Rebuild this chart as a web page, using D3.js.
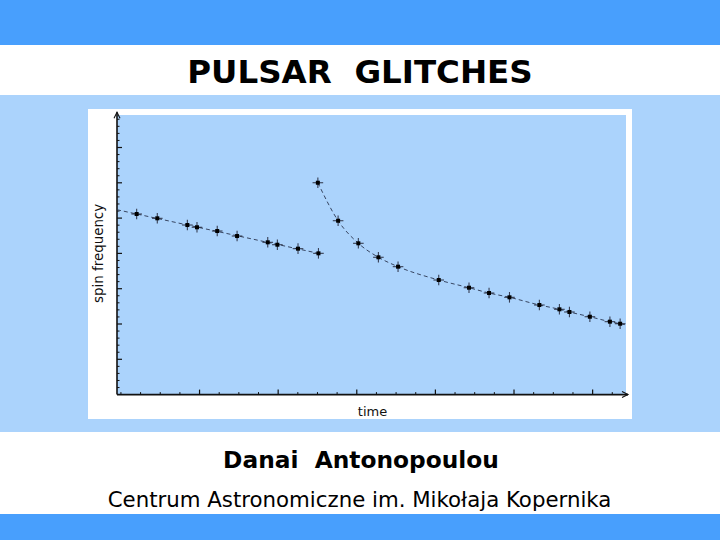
<!DOCTYPE html>
<html><head><meta charset="utf-8">
<script src="https://cdn.jsdelivr.net/npm/d3@7"></script>
<style>html,body{margin:0;padding:0;background:#fff}svg{display:block}</style>
</head><body>
<script>
// ---- data ----
const titleText = "PULSAR  GLITCHES";
const authorText = "Danai  Antonopoulou";
const affilText = "Centrum Astronomiczne im. Mikołaja Kopernika";
const xLabel = "time";
const yLabel = "spin frequency";

const preTime = [0.80, 1.85, 3.38, 3.87, 4.90, 5.91, 7.47, 7.96, 9.01, 10.05];
const preFreq = [25.58, 24.97, 24.02, 23.70, 23.17, 22.46, 21.57, 21.23, 20.67, 20.01];

const postTime = [10.02, 11.05, 12.08, 13.10, 14.10, 16.17, 17.71, 18.73, 19.77, 21.29, 22.31, 22.82, 23.86, 24.88, 25.40];
const postFreq = [30.01, 24.63, 21.43, 19.45, 18.12, 16.23, 15.14, 14.39, 13.78, 12.69, 12.08, 11.70, 11.03, 10.33, 10.04];

const timeErr = 0.27;
const freqErr = 0.75;

const xDomain = [-0.2, 25.8];
const yDomain = [0, 40];
const xMajorTicks = [4, 8, 12, 16, 20, 24];
const yMajorTicks = [5, 10, 15, 20, 25, 30, 35];

// ---- layout ----
const W = 720, H = 540;
const svg = d3.select("body").append("svg").attr("width", W).attr("height", H);

const darkBlue = "#489ffd", lightBlue = "#abd3fc";
svg.append("rect").attr("x",0).attr("y",0).attr("width",W).attr("height",H).attr("fill","#fff");
svg.append("rect").attr("x",0).attr("y",0).attr("width",W).attr("height",45).attr("fill",darkBlue);
svg.append("rect").attr("x",0).attr("y",514).attr("width",W).attr("height",26).attr("fill",darkBlue);
svg.append("rect").attr("x",0).attr("y",95).attr("width",W).attr("height",337).attr("fill",lightBlue);

// white panel + plot bg
svg.append("rect").attr("x",88).attr("y",109).attr("width",544).attr("height",310).attr("fill","#fff");

const x = d3.scaleLinear().domain(xDomain).range([117, 628]);
const y = d3.scaleLinear().domain(yDomain).range([394.6, 112.2]);

svg.append("rect").attr("x",117).attr("y",115).attr("width",626-117).attr("height",394.6-115).attr("fill",lightBlue);

// texts
svg.append("text").attr("x",360).attr("y",83).attr("text-anchor","middle")
  .attr("font-family","DejaVu Sans").attr("font-weight","bold").attr("font-size",32.5)
  .attr("fill","#000").style("white-space","pre").text(titleText);
svg.append("text").attr("x",361).attr("y",468).attr("text-anchor","middle")
  .attr("font-family","DejaVu Sans").attr("font-weight","bold").attr("font-size",23.3)
  .attr("fill","#000").style("white-space","pre").text(authorText);
svg.append("text").attr("x",359.5).attr("y",507).attr("text-anchor","middle")
  .attr("font-family","DejaVu Sans").attr("font-size",21.3)
  .attr("fill","#000").text(affilText);

// axes
const axisG = svg.append("g").attr("stroke","#111").attr("fill","none");
const x0 = x(xDomain[0]), y0 = y(yDomain[0]);
axisG.append("line").attr("x1",x0).attr("y1",y0).attr("x2",x(xDomain[1])).attr("y2",y0).attr("stroke-width",1.6);
axisG.append("line").attr("x1",x0).attr("y1",y0).attr("x2",x0).attr("y2",y(yDomain[1])).attr("stroke-width",1.6);
// arrow heads
const xe = x(xDomain[1]), ye = y(yDomain[1]);
axisG.append("path").attr("d",`M${xe-6},${y0-3}L${xe},${y0}L${xe-6},${y0+3}`).attr("stroke-width",1.1);
axisG.append("path").attr("d",`M${x0-3},${ye+6}L${x0},${ye}L${x0+3},${ye+6}`).attr("stroke-width",1.1);

// x ticks (inward, upwards)
const xMinor = d3.range(0, 26, 1).filter(t => !xMajorTicks.includes(t));
axisG.selectAll(".xmin").data(xMinor).join("line")
  .attr("x1",d=>x(d)).attr("x2",d=>x(d)).attr("y1",y0).attr("y2",y0-2.5).attr("stroke-width",1);
axisG.selectAll(".xmaj").data(xMajorTicks).join("line")
  .attr("x1",d=>x(d)).attr("x2",d=>x(d)).attr("y1",y0).attr("y2",y0-5).attr("stroke-width",1.2);
// y ticks (inward, right)
const yMinor = d3.range(1, 40, 1).filter(v => !yMajorTicks.includes(v));
axisG.selectAll(".ymin").data(yMinor).join("line")
  .attr("y1",d=>y(d)).attr("y2",d=>y(d)).attr("x1",x0).attr("x2",x0+2.5).attr("stroke-width",1);
axisG.selectAll(".ymaj").data(yMajorTicks).join("line")
  .attr("y1",d=>y(d)).attr("y2",d=>y(d)).attr("x1",x0).attr("x2",x0+5).attr("stroke-width",1.2);

// axis labels
svg.append("text").attr("x",(x0+xe)/2).attr("y",416).attr("text-anchor","middle")
  .attr("font-family","DejaVu Sans").attr("font-size",13).attr("fill","#111").text(xLabel);
svg.append("text").attr("transform",`translate(102.5,${(y0+ye)/2}) rotate(-90)`).attr("text-anchor","middle")
  .attr("font-family","DejaVu Sans").attr("font-size",13.4).attr("fill","#111").text(yLabel);

// fit lines
const pre = preTime.map((t,i)=>({t, f: preFreq[i]}));
const post = postTime.map((t,i)=>({t, f: postFreq[i]}));
// linear regression for pre-glitch, extended back to the axis
const n = pre.length;
const mt = d3.mean(pre,d=>d.t), mf = d3.mean(pre,d=>d.f);
const slope = d3.sum(pre,d=>(d.t-mt)*(d.f-mf)) / d3.sum(pre,d=>(d.t-mt)**2);
const icpt = mf - slope*mt;
const preLine = [{t: xDomain[0], f: icpt + slope*xDomain[0]}, {t: pre[n-1].t, f: icpt + slope*pre[n-1].t}];
// post-glitch smooth curve, extended a little using last slope
const a = post[post.length-2], b = post[post.length-1];
const tEnd = 25.65;
const postLine = post.concat([{t: tEnd, f: b.f + (b.f-a.f)/(b.t-a.t)*(tEnd-b.t)}]);

const lineGen = d3.line().x(d=>x(d.t)).y(d=>y(d.f));
svg.append("path").attr("d",lineGen(preLine)).attr("fill","none")
  .attr("stroke","#2a3550").attr("stroke-width",0.9).attr("stroke-dasharray","4,3");
svg.append("path").attr("d",lineGen.curve(d3.curveMonotoneX)(postLine)).attr("fill","none")
  .attr("stroke","#2a3550").attr("stroke-width",0.9).attr("stroke-dasharray","4,3");

// points with error bars
const pts = pre.concat(post);
const pg = svg.append("g");
pg.selectAll(".ex").data(pts).join("line")
  .attr("x1",d=>x(d.t-timeErr)).attr("x2",d=>x(d.t+timeErr)).attr("y1",d=>y(d.f)).attr("y2",d=>y(d.f))
  .attr("stroke","#1a1a2a").attr("stroke-opacity",0.8).attr("stroke-width",1.1);
pg.selectAll(".ey").data(pts).join("line")
  .attr("x1",d=>x(d.t)).attr("x2",d=>x(d.t)).attr("y1",d=>y(d.f-freqErr)).attr("y2",d=>y(d.f+freqErr))
  .attr("stroke","#1a1a2a").attr("stroke-opacity",0.8).attr("stroke-width",1.1);
pg.selectAll("rect").data(pts).join("rect")
  .attr("x",d=>x(d.t)-2).attr("y",d=>y(d.f)-2).attr("width",4).attr("height",4).attr("fill","#000");
</script>
</body></html>
